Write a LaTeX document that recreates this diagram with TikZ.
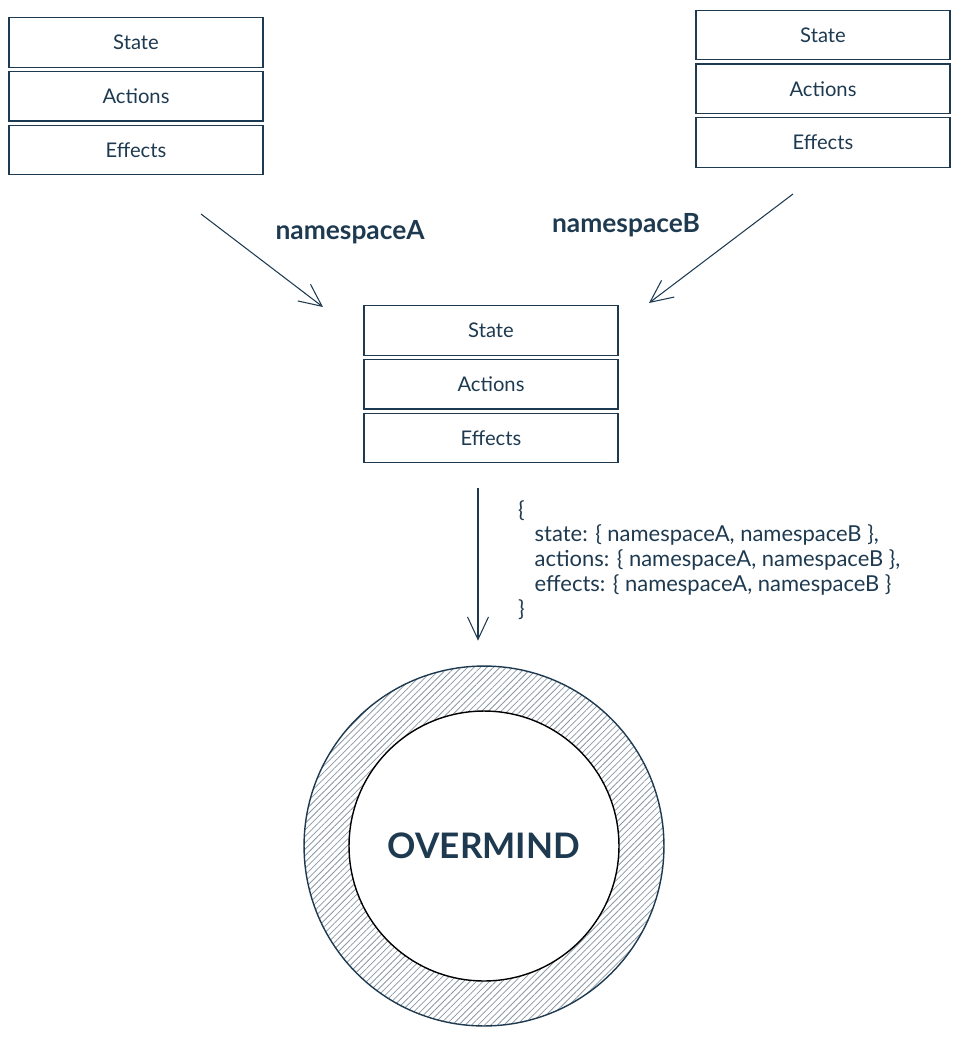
\documentclass[tikz,border=0pt]{standalone}
\usepackage{fontspec}
\setmainfont{Lato}
\usetikzlibrary{positioning, arrows.meta, patterns.meta}
\definecolor{ink}{HTML}{1E3A50}
\definecolor{hatch}{HTML}{8A98A4}

\begin{document}
\begin{tikzpicture}[x=0.02cm, y=-0.02cm, node distance=0.06cm,
		box/.style={draw=ink, line width=0.7pt, minimum width=5.08cm, minimum height=0.99cm, text=ink, font=\fontsize{11.5}{13}\selectfont},
		arr/.style={draw=ink, line width=0.6pt, -{Straight Barb[length=0.45cm, width=0.42cm]}},
		lbl/.style={text=ink, font=\fontsize{15}{18}\selectfont\bfseries}]
	\useasboundingbox (0,0) rectangle (961,1038);
	% namespace A
	\node[box] (leftState) at (136,42.5) {State};
	\node[box, below=of leftState] (leftActions) {Actions};
	\node[box, below=of leftActions] (leftEffects) {Effects};
	% namespace B
	\node[box] (rightState) at (823,35) {State};
	\node[box, below=of rightState] (rightActions) {Actions};
	\node[box, below=of rightActions] (rightEffects) {Effects};
	% merged
	\node[box] (midState) at (491,330.5) {State};
	\node[box, below=of midState] (midActions) {Actions};
	\node[box, below=of midActions] (midEffects) {Effects};
	\coordinate (tailA) at (201,214);
	\coordinate (headA) at (323,307);
	\coordinate (tailB) at (793,194);
	\coordinate (headB) at (649,303);
	\draw[arr] (tailA) -- (headA);
	\draw[arr] (tailB) -- (headB);
	\node[lbl] (nameA) at (350,232) {namespaceA};
	\node[lbl] (nameB) at (626,225) {namespaceB};
	% overmind
	\node[circle, draw=ink, line width=0.8pt, minimum size=7.2cm, pattern={Lines[angle=45, distance=2.6pt, line width=0.45pt]}, pattern color=hatch] (ring) at (484,846) {};
	\node[circle, draw=black, line width=0.8pt, fill=white, minimum size=5.4cm, text=ink, font=\fontsize{20}{24}\selectfont\bfseries] (core) at (ring.center) {OVERMIND};
	\draw[arr, shorten <=0.5cm, shorten >=0.5cm] ([xshift=-0.12cm]midEffects.south -| ring.north) -- ([xshift=-0.12cm]ring.north);
	\node[anchor=north west, align=left, text=ink, font=\fontsize{12.5}{14.2}\selectfont] (code) at (512,494) {\{\\
		\hspace{0.75em}state: \{ namespaceA, namespaceB \},\\
		\hspace{0.75em}actions: \{ namespaceA, namespaceB \},\\
		\hspace{0.75em}effects: \{ namespaceA, namespaceB \}\\
		\}};
\end{tikzpicture}
\end{document}
